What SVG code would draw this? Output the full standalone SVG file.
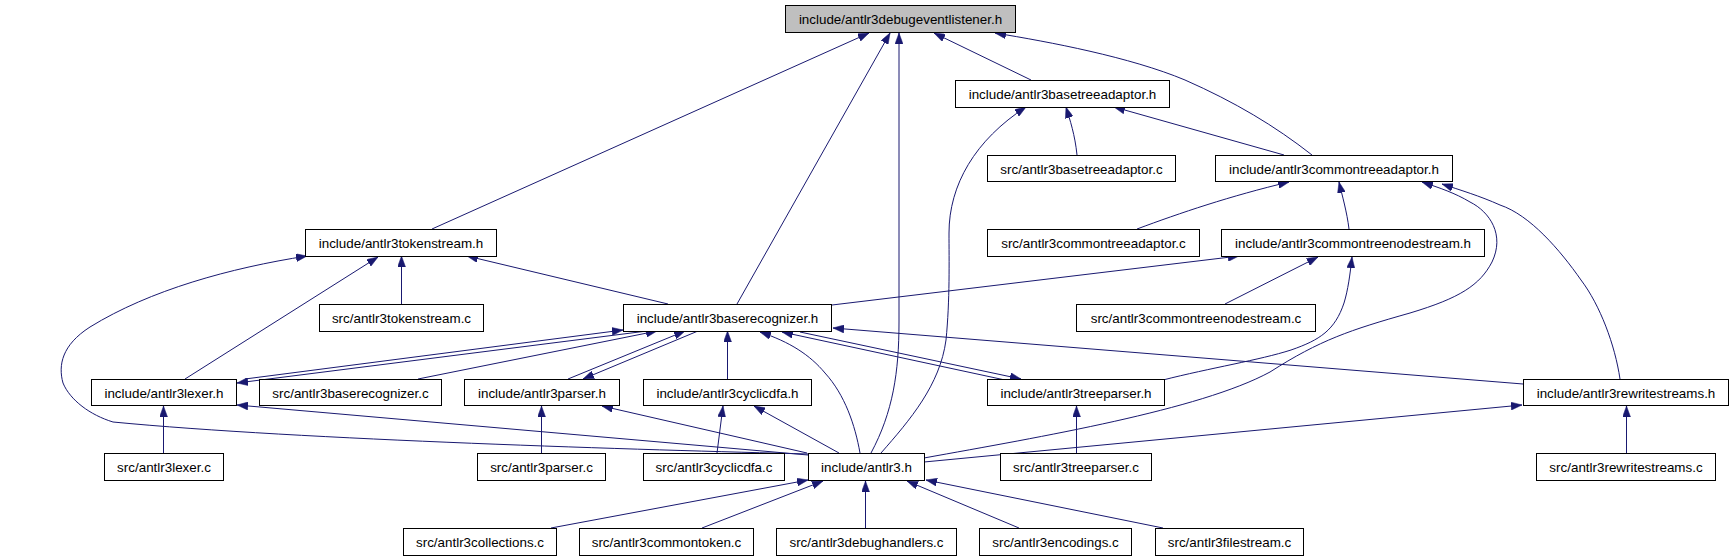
<svg xmlns="http://www.w3.org/2000/svg" width="1733" height="560" viewBox="0 0 1733 560">
<defs>
<marker id="arr" viewBox="0 0 11 8" refX="11" refY="4" markerWidth="11" markerHeight="8" markerUnits="userSpaceOnUse" orient="auto">
<path d="M0,0 L11,4 L0,8 z" fill="#191970" stroke="#191970" stroke-width="0.5"/>
</marker>
</defs>
<style>
.node rect{fill:#ffffff;stroke:#000000;stroke-width:1}
.node.root rect{fill:#bfbfbf}
.node text{font-family:"Liberation Sans",Arial,sans-serif;font-size:13.4px;fill:#000000;text-anchor:middle}
.edges path{fill:none;stroke:#191970;stroke-width:1;marker-end:url(#arr)}
</style>
<rect width="1733" height="560" fill="#ffffff"/>
<g id="connectors" class="edges">
<path d="M432,229 L869,33"/>
<path d="M737,304 L890,33"/>
<path d="M871,453 C893,412 899,372 899,322 L899,33"/>
<path d="M1031,80 L934,33"/>
<path d="M1312,155 C1275,126 1235,102 1185,80 C1130,57 1050,42 995,33"/>
<path d="M1077,155 C1075,135 1070,120 1066,107"/>
<path d="M1284,155 L1114,107"/>
<path d="M881,453 C910,420 940,385 946,340 C950,300 949,260 949,233 C949,185 975,140 1026,107"/>
<path d="M1137,229 C1180,213 1230,196 1289,182"/>
<path d="M1349,229 C1347,212 1342,195 1339,182"/>
<path d="M924,458 C1040,437 1200,410 1270,372 C1320,340 1350,330 1410,313 C1460,298 1480,285 1492,262 C1505,235 1490,212 1470,202 C1455,193 1440,188 1422,182"/>
<path d="M1620,379 C1615,345 1600,305 1581,280 C1560,250 1530,215 1500,205 C1480,196 1460,190 1442,184"/>
<path d="M185,379 L378,257"/>
<path d="M401.5,304 L401.5,256"/>
<path d="M668,304 L467,256"/>
<path d="M809,454 C650,450 300,440 113,422 C90,415 70,400 63,383 C58,365 62,345 90,327 C150,290 230,268 307,256"/>
<path d="M1225,304 L1318,257"/>
<path d="M1163,380 C1210,368 1260,360 1291,350 C1320,340 1335,330 1344,303 C1348,290 1350,275 1352,257"/>
<path d="M832,305 L1239,256"/>
<path d="M245,379 L623,330"/>
<path d="M647,331 L237,383"/>
<path d="M418,379 L657,331"/>
<path d="M568,379 L685,331"/>
<path d="M698,331 L583,379"/>
<path d="M727.5,379 L727.5,331"/>
<path d="M860,453 C855,425 845,395 825,373 C810,355 790,342 760,332"/>
<path d="M1005,380 L782,332"/>
<path d="M800,332 L1021,379"/>
<path d="M1523,384 L833,328"/>
<path d="M163.5,453 L163.5,406"/>
<path d="M808,455 L237,405"/>
<path d="M807,453 L602,406"/>
<path d="M541.5,453 L541.5,406"/>
<path d="M717,453 L723,406"/>
<path d="M839,453 L754,406"/>
<path d="M1076.5,453 L1076.5,406"/>
<path d="M1626.5,453 L1626.5,406"/>
<path d="M924,462 L1522,405"/>
<path d="M551,528 L808,480"/>
<path d="M702,528 L823,481"/>
<path d="M865.5,528 L865.5,481"/>
<path d="M1019,528 L907,481"/>
<path d="M1163,528 L926,480"/>
</g>
<g id="n0" class="node root"><rect x="785.5" y="5.5" width="230" height="27"/><text x="900.5" y="23.6">include/antlr3debugeventlistener.h</text></g>
<g id="n1" class="node"><rect x="955.5" y="80.5" width="214" height="27"/><text x="1062.5" y="98.6">include/antlr3basetreeadaptor.h</text></g>
<g id="n2" class="node"><rect x="987.5" y="155.5" width="188" height="26"/><text x="1081.5" y="173.6">src/antlr3basetreeadaptor.c</text></g>
<g id="n3" class="node"><rect x="1215.5" y="155.5" width="237" height="26"/><text x="1334" y="173.6">include/antlr3commontreeadaptor.h</text></g>
<g id="n4" class="node"><rect x="987.5" y="229.5" width="212" height="27"/><text x="1093.5" y="247.6">src/antlr3commontreeadaptor.c</text></g>
<g id="n5" class="node"><rect x="1221.5" y="229.5" width="263" height="27"/><text x="1353" y="247.6">include/antlr3commontreenodestream.h</text></g>
<g id="n6" class="node"><rect x="305.5" y="229.5" width="191" height="27"/><text x="401" y="247.6">include/antlr3tokenstream.h</text></g>
<g id="n7" class="node"><rect x="319.5" y="304.5" width="164" height="27"/><text x="401.5" y="322.6">src/antlr3tokenstream.c</text></g>
<g id="n8" class="node"><rect x="623.5" y="304.5" width="208" height="27"/><text x="727.5" y="322.6">include/antlr3baserecognizer.h</text></g>
<g id="n9" class="node"><rect x="1076.5" y="304.5" width="239" height="27"/><text x="1196" y="322.6">src/antlr3commontreenodestream.c</text></g>
<g id="n10" class="node"><rect x="91.5" y="379.5" width="145" height="26"/><text x="164" y="397.6">include/antlr3lexer.h</text></g>
<g id="n11" class="node"><rect x="259.5" y="379.5" width="182" height="26"/><text x="350.5" y="397.6">src/antlr3baserecognizer.c</text></g>
<g id="n12" class="node"><rect x="464.5" y="379.5" width="155" height="26"/><text x="542" y="397.6">include/antlr3parser.h</text></g>
<g id="n13" class="node"><rect x="643.5" y="379.5" width="168" height="26"/><text x="727.5" y="397.6">include/antlr3cyclicdfa.h</text></g>
<g id="n14" class="node"><rect x="987.5" y="379.5" width="177" height="26"/><text x="1076" y="397.6">include/antlr3treeparser.h</text></g>
<g id="n15" class="node"><rect x="1523.5" y="379.5" width="205" height="26"/><text x="1626" y="397.6">include/antlr3rewritestreams.h</text></g>
<g id="n16" class="node"><rect x="104.5" y="453.5" width="119" height="27"/><text x="164" y="471.6">src/antlr3lexer.c</text></g>
<g id="n17" class="node"><rect x="477.5" y="453.5" width="128" height="27"/><text x="541.5" y="471.6">src/antlr3parser.c</text></g>
<g id="n18" class="node"><rect x="643.5" y="453.5" width="141" height="27"/><text x="714" y="471.6">src/antlr3cyclicdfa.c</text></g>
<g id="n19" class="node"><rect x="808.5" y="453.5" width="116" height="27"/><text x="866.5" y="471.6">include/antlr3.h</text></g>
<g id="n20" class="node"><rect x="1000.5" y="453.5" width="151" height="27"/><text x="1076" y="471.6">src/antlr3treeparser.c</text></g>
<g id="n21" class="node"><rect x="1536.5" y="453.5" width="179" height="27"/><text x="1626" y="471.6">src/antlr3rewritestreams.c</text></g>
<g id="n22" class="node"><rect x="403.5" y="528.5" width="153" height="27"/><text x="480" y="546.6">src/antlr3collections.c</text></g>
<g id="n23" class="node"><rect x="579.5" y="528.5" width="174" height="27"/><text x="666.5" y="546.6">src/antlr3commontoken.c</text></g>
<g id="n24" class="node"><rect x="776.5" y="528.5" width="180" height="27"/><text x="866.5" y="546.6">src/antlr3debughandlers.c</text></g>
<g id="n25" class="node"><rect x="979.5" y="528.5" width="152" height="27"/><text x="1055.5" y="546.6">src/antlr3encodings.c</text></g>
<g id="n26" class="node"><rect x="1155.5" y="528.5" width="148" height="27"/><text x="1229.5" y="546.6">src/antlr3filestream.c</text></g>
</svg>
